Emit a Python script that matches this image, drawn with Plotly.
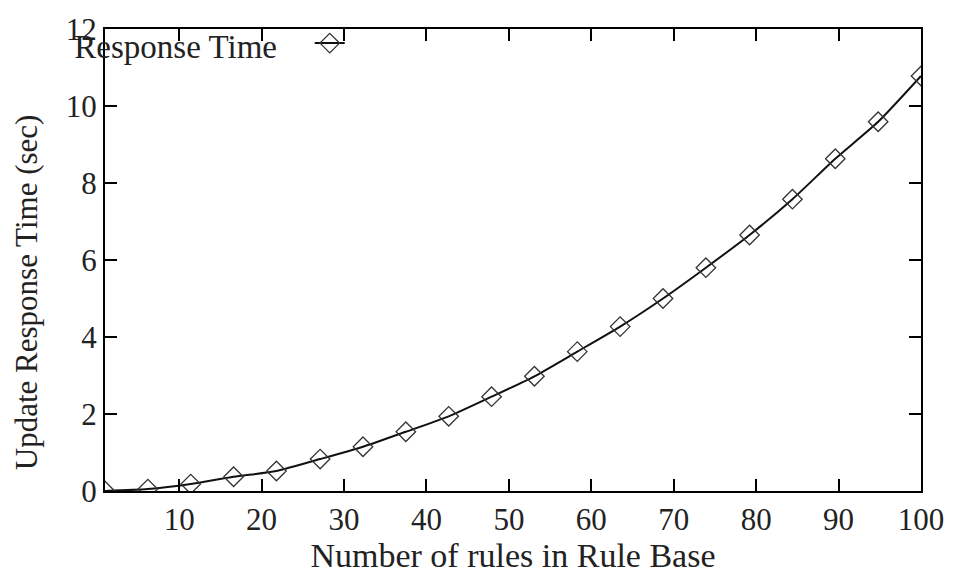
import plotly.graph_objects as go

rules = [1, 6.2, 11.4, 16.6, 21.8, 27.1, 32.3, 37.5, 42.7, 47.9,
         53.1, 58.3, 63.5, 68.7, 73.9, 79.2, 84.4, 89.6, 94.8, 100]
resp_time = [0.0, 0.05, 0.18, 0.37, 0.52, 0.83, 1.15, 1.54, 1.94, 2.45,
             2.98, 3.62, 4.27, 5.00, 5.80, 6.65, 7.58, 8.63, 9.59, 10.78]
x_ticks = [10, 20, 30, 40, 50, 60, 70, 80, 90, 100]
y_ticks = [0, 2, 4, 6, 8, 10, 12]

FONT = "Liberation Serif"
TXT = "#222222"
fig = go.Figure()
fig.add_trace(go.Scatter(
    x=rules, y=resp_time, mode="lines+markers", name="\u00a0",
    line=dict(color="#111111", width=2, shape="spline", smoothing=0.6),
    marker=dict(symbol="diamond-open", size=15, color="#333333",
                line=dict(width=1.3, color="#333333")),
))

axis_common = dict(showline=True, linecolor="black", linewidth=2, mirror="allticks",
                   ticks="inside", ticklen=12, tickwidth=2, tickcolor="black",
                   showgrid=False, zeroline=False,
                   tickfont=dict(family=FONT, size=31, color=TXT))
fig.update_xaxes(range=[1, 100], tickvals=x_ticks,
                 title=dict(text="Number of rules in Rule Base", standoff=4,
                            font=dict(family=FONT, size=34, color=TXT)),
                 **axis_common)
fig.update_yaxes(range=[0, 12], tickvals=y_ticks, **axis_common)

fig.add_annotation(text="Update Response Time (sec)", textangle=-90,
                   xref="paper", yref="paper", x=-0.097, y=0.43,
                   xanchor="center", yanchor="middle", showarrow=False,
                   font=dict(family=FONT, size=31, color=TXT))

fig.update_layout(
    width=956, height=577,
    margin=dict(l=105, r=33, t=21, b=85),
    plot_bgcolor="white", paper_bgcolor="white",
    showlegend=True,
    legend=dict(x=-0.04, y=1.03, xanchor="left", yanchor="top",
                orientation="h", bgcolor="rgba(0,0,0,0)",
                title=dict(text="Response Time\u00a0\u00a0\u00a0", side="left",
                           font=dict(family=FONT, size=33, color=TXT)),
                font=dict(family=FONT, size=33, color=TXT)),
)
fig.write_html("out.html")
